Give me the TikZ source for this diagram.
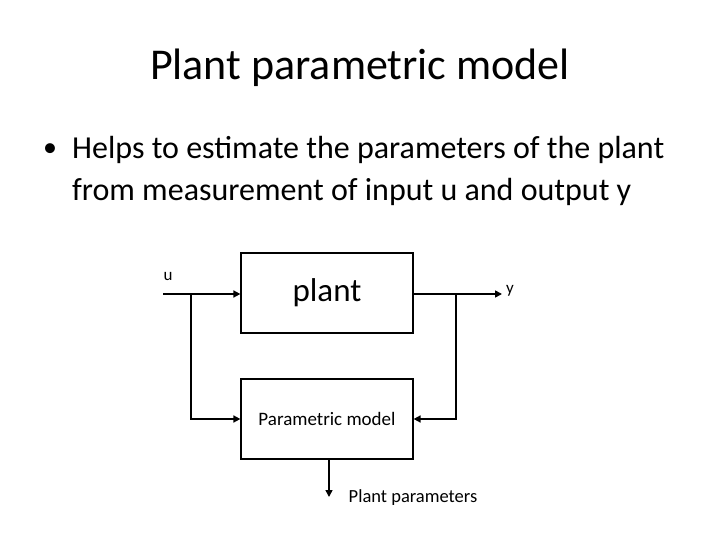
\documentclass[tikz,border=0pt]{standalone}
\usepackage{fontspec}
\setmainfont{Carlito}
\usetikzlibrary{arrows.meta}
\begin{document}
\begin{tikzpicture}[x=1pt,y=-1pt,
  blk/.style={draw,line width=1.2pt,minimum width=172pt,minimum height=80pt,inner sep=0pt},
  sig/.style={line width=1.6pt,-{Triangle[length=7pt,width=7pt]}},
  wire/.style={line width=1.6pt}]
\useasboundingbox (0,0) rectangle (720,540);
\node (title) at (360,68) {\fontsize{44}{50}\selectfont Plant parametric model};
\node (bul) at (50,150) {\fontsize{28}{38}\selectfont \textbullet};
\node[anchor=west,inner sep=0pt] (b1) at (72,150) {\fontsize{32}{38}\selectfont Helps to estimate the parameters of the plant};
\node[anchor=west,inner sep=0pt] (b2) at (72,192) {\fontsize{32}{38}\selectfont from measurement of input u and output y};
\node[blk] (plant) at (327,293) {\fontsize{33}{38}\selectfont plant};
\node[blk] (pm) at (327,419) {\fontsize{19}{22}\selectfont Parametric model};
\coordinate (in) at (163,294);
\coordinate (out) at (502,294);
\coordinate (bl) at (191,294);
\coordinate (br) at (456,294);
\coordinate (pp) at (329,497);
\node (u) at (168,277) {\fontsize{17}{20}\selectfont u};
\node (y) at (510,291) {\fontsize{17}{20}\selectfont y};
\node (pl) at (413,498) {\fontsize{18.5}{22}\selectfont Plant parameters};
\draw[sig] (in) -- (plant.west|-in);
\draw[sig] (plant.east|-out) -- (out);
\draw[sig] (bl) |- (pm.west);
\draw[sig] (br) |- (pm.east);
\draw[sig] (pm.south-|pp) -- (pp);
\end{tikzpicture}
\end{document}
